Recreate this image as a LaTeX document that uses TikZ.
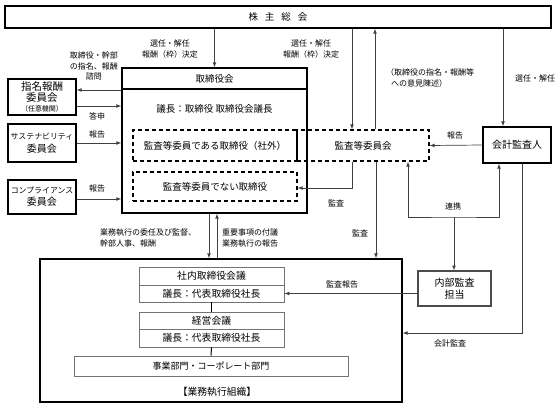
\documentclass[tikz,border=0pt]{standalone}
\usepackage{fontspec}
\setmainfont{Noto Sans CJK JP}

\begin{document}
\begin{tikzpicture}[x=1pt,y=-1pt,
        box/.style={draw,line width=1.4pt,inner sep=0pt,align=center},
        sub/.style={draw=black!55,line width=0.8pt,inner sep=0pt,font=\fontsize{9.8}{11}\selectfont},
        dbox/.style={draw,line width=1.3pt,dash pattern=on 4pt off 3pt,inner sep=0pt},
        txt/.style={font=\fontsize{9.5}{11}\selectfont,inner sep=0pt},
        lbl/.style={font=\fontsize{8}{10.5}\selectfont,align=center,inner sep=0pt},
        con/.style={draw=black!75,line width=0.7pt},
        arr/.style={con,-latex}]
    \useasboundingbox (0,0) rectangle (558,407);

    % shareholders
    \node[box,txt,minimum width=546pt,minimum height=22pt] (gm) at (278,17)
        {株\hspace{7pt}主\hspace{7pt}総\hspace{7pt}会};

    % board of directors
    \node[box,minimum width=185pt,minimum height=145pt] (board) at (214.5,140.5) {};
    \coordinate (hd) at (0,89);
    \draw[line width=1.4pt] (board.west |- hd) -- (board.east |- hd);
    \node[txt] (boardt) at (214.5,78.5) {取締役会};
    \node[txt] (chair) at (214.5,109) {議長：取締役 取締役会議長};
    \node[dbox,txt,minimum width=164pt,minimum height=31pt] (outs) at (215,145.5)
        {監査等委員である取締役（社外）};
    \node[dbox,txt,minimum width=132pt,minimum height=31pt] (aud) at (363,145.5)
        {監査等委員会};
    \node[dbox,txt,minimum width=164pt,minimum height=29pt] (ins) at (215,186.5)
        {監査等委員でない取締役};

    % committees
    \node[box,minimum width=68pt,minimum height=36pt,font=\fontsize{10.5}{11}\selectfont] (nom) at (42,97)
        {指名報酬\\委員会\\[-1pt]{\fontsize{7}{8}\selectfont （任意機関）}};
    \node[box,minimum width=68pt,minimum height=38pt,font=\fontsize{10}{13}\selectfont] (sus) at (42,143)
        {{\fontsize{7.9}{9}\selectfont サステナビリティ}\\委員会};
    \node[box,minimum width=68pt,minimum height=34pt,font=\fontsize{10}{12}\selectfont] (comp) at (42,197)
        {{\fontsize{7.9}{9}\selectfont コンプライアンス}\\委員会};

    % auditors
    \node[box,minimum width=68pt,minimum height=36pt,font=\fontsize{10}{12}\selectfont] (audacc) at (517,145)
        {会計監査人};
    \node[box,draw=black!70,line width=1.1pt,minimum width=73pt,minimum height=35pt,
        font=\fontsize{10}{12}\selectfont] (internal) at (454.5,288.5) {内部監査\\担当};

    % executive organisation
    \node[box,minimum width=362pt,minimum height=143pt] (exec) at (221,330.5) {};
    \node[sub,minimum width=145pt,minimum height=18pt] (imeet) at (211.5,276) {社内取締役会議};
    \node[sub,minimum width=145pt,minimum height=17pt] (ichair) at (211.5,293.5) {議長：代表取締役社長};
    \node[sub,minimum width=145pt,minimum height=17pt] (emeet) at (211.5,320.5) {経営会議};
    \node[sub,minimum width=145pt,minimum height=18pt] (echair) at (211.5,338) {議長：代表取締役社長};
    \node[sub,minimum width=274pt,minimum height=20pt,font=\fontsize{9}{11}\selectfont] (dept) at (211,366)
        {事業部門・コーポレート部門};
    \node[txt,font=\fontsize{9.8}{11}\selectfont] (orglbl) at (217,392) {【業務執行組織】};
    \draw[line width=1pt] (ichair.south) -- (emeet.north);
    \draw[line width=1pt] (echair.south) -- (dept.north);

    % connectors
    \draw[arr] (gm.south -| board.north) -- (board.north);
    \draw[arr] ([xshift=-11pt]aud.north |- gm.south) -- ([xshift=-11pt]aud.north);
    \draw[arr] ([xshift=12pt]aud.north) -- ([xshift=12pt]aud.north |- gm.south);
    \draw[arr] ([xshift=-14pt]audacc.north |- gm.south) -- ([xshift=-14pt]audacc.north);
    \draw[arr] (board.west |- 0,90) -- (nom.east |- 0,90);
    \draw[arr] (nom.east |- 0,106) -- (board.west |- 0,106);
    \draw[arr] (sus.east) -- (board.west |- sus.east);
    \draw[arr] (comp.east |- 0,199) -- (board.west |- 0,199);
    \draw[arr] (aud.south -| 352,0) |- (ins.east |- 0,188);
    \draw[arr] (aud.south -| 376,0) -- (exec.north -| 376,0);
    \draw[arr] (audacc.west) -- (aud.east);
    \coordinate (lk) at (454,217);
    \draw[con,latex-latex] (aud.south -| 408,0) |- (lk) -| (audacc.south -| 499,0);
    \draw[arr] (lk) -- (internal.north -| lk);
    \draw[arr] (audacc.south -| 522,0) |- (exec.east |- 0,333);
    \draw[arr] (internal.west |- ichair.east) -- (ichair.east);
    \draw[arr] (board.south -| 209,0) -- (exec.north -| 209,0);
    \draw[arr] (exec.north -| 217,0) -- (board.south -| 217,0);

    % labels
    \node[lbl] (l1) at (170,49) {選任・解任\\報酬（枠）決定};
    \node[lbl] (l2) at (311,49) {選任・解任\\報酬（枠）決定};
    \node[lbl,align=left,anchor=west] (l3) at (386,78) {（取締役の指名・報酬等\\\hspace{0.6em}への意見陳述）};
    \node[lbl] (l4) at (535,78) {選任・解任};
    \node[lbl] (l5) at (94,66) {取締役・幹部\\の指名、報酬\\諮問};
    \node[lbl] (l6) at (97,116) {答申};
    \node[lbl] (l7) at (97,134) {報告};
    \node[lbl] (l8) at (97,188) {報告};
    \node[lbl] (l9) at (336,203) {監査};
    \node[lbl] (l10) at (360,233) {監査};
    \node[lbl] (l11) at (455,135) {報告};
    \node[lbl] (l12) at (453,206) {連携};
    \node[lbl] (l13) at (450,343) {会計監査};
    \node[lbl] (l14) at (342,284) {監査報告};
    \node[lbl,align=left,anchor=west] (l15) at (100,238) {業務執行の委任及び監督、\\幹部人事、報酬};
    \node[lbl,align=left,anchor=west] (l16) at (222,238) {重要事項の付議\\業務執行の報告};
\end{tikzpicture}
\end{document}
